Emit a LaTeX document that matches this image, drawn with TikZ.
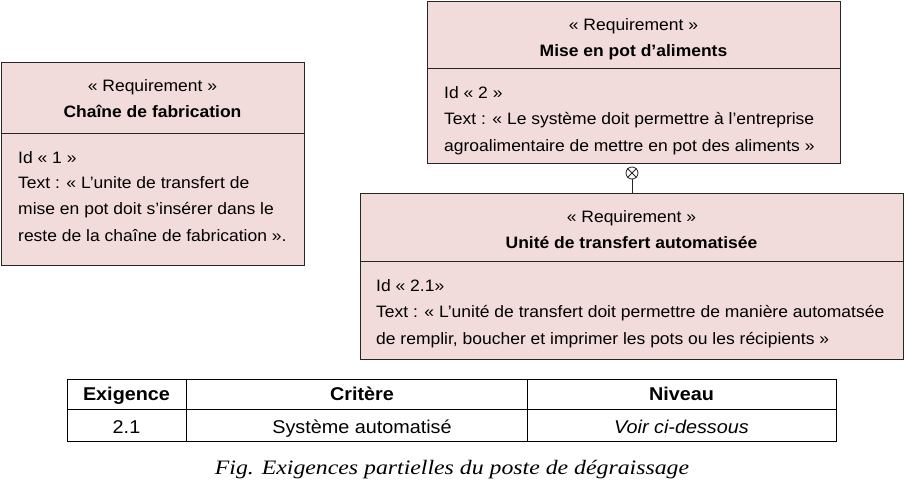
\documentclass[tikz,border=0pt]{standalone}
\usepackage{fontspec}
\setmainfont{Liberation Sans}
\newfontfamily\boxfont[FakeStretch=1.06]{Liberation Sans}
\newfontfamily\tabfont[FakeStretch=1.07]{Liberation Sans}
\newfontfamily\capfont[FakeStretch=1.16]{Liberation Serif}
\definecolor{reqfill}{HTML}{F2DCDB}
\definecolor{reqline}{HTML}{262626}
\begin{document}
\begin{tikzpicture}[x=1pt,y=-1pt,
  reqbox/.style={draw=reqline, line width=0.9pt, fill=reqfill, anchor=north west, inner sep=0pt},
  sep/.style={draw=reqline, line width=0.9pt},
  txt/.style={font=\boxfont\fontsize{16.5}{19}\selectfont, inner sep=0pt, anchor=base},
  ltxt/.style={txt, anchor=base west},
  btxt/.style={txt, font=\boxfont\fontsize{16.5}{19}\selectfont\bfseries},
  ttxt/.style={font=\tabfont\fontsize{18.5}{22}\selectfont, inner sep=0pt, anchor=base},
  tbtxt/.style={ttxt, font=\tabfont\fontsize{18.5}{22}\selectfont\bfseries},
  tline/.style={draw=black, line width=0.9pt}]
\useasboundingbox (0,0) rectangle (905,483);

% Box 1
\node[reqbox, minimum width=303pt, minimum height=203pt] (b1) at (1,62) {};
\draw[sep] (1,133) -- (304,133);
\node[txt]  (b1s) at (152.5,91.7) {« Requirement »};
\node[btxt] (b1t) at (152.5,117.7) {Chaîne de fabrication};
\node[ltxt] (b1a) at (18,163.3) {Id « 1 »};
\node[ltxt] (b1b) at (18,188.6) {Text : « L’unite de transfert de};
\node[ltxt] (b1c) at (18,214.6) {mise en pot doit s’insérer dans le};
\node[ltxt] (b1d) at (18,241) {reste de la chaîne de fabrication ».};

% Box 2
\node[reqbox, minimum width=413pt, minimum height=162pt] (b2) at (427,1) {};
\draw[sep] (427,68) -- (840,68);
\node[txt]  (b2s) at (633.5,30.7) {« Requirement »};
\node[btxt] (b2t) at (633.5,56.7) {Mise en pot d’aliments};
\node[ltxt] (b2a) at (444,98.3) {Id « 2 »};
\node[ltxt] (b2b) at (444,124.6) {Text : « Le système doit permettre à l’entreprise};
\node[ltxt] (b2c) at (444,151) {agroalimentaire de mettre en pot des aliments »};

% Box 3
\node[reqbox, minimum width=543pt, minimum height=166pt] (b3) at (360,193) {};
\draw[sep] (360,261) -- (903,261);
\node[txt]  (b3s) at (631.5,222.7) {« Requirement »};
\node[btxt] (b3t) at (631.5,248.7) {Unité de transfert automatisée};
\node[ltxt] (b3a) at (376,291.3) {Id « 2.1»};
\node[ltxt] (b3b) at (376,317.6) {Text : « L’unité de transfert doit permettre de manière automatsée};
\node[ltxt] (b3c) at (376,344) {de remplir, boucher et imprimer les pots ou les récipients »};

% Containment connector
\node[circle, draw=reqline, line width=0.8pt, minimum size=12pt, inner sep=0pt] (oc) at (632,173) {};
\draw[reqline, line width=0.8pt] (oc.north west) -- (oc.south east);
\draw[reqline, line width=0.8pt] (oc.north east) -- (oc.south west);
\draw[reqline, line width=0.9pt] (oc.south) -- (oc.south |- b3.north);

% Table
\node[draw=black, line width=0.9pt, minimum width=769pt, minimum height=62pt, anchor=north west, inner sep=0pt] (tab) at (67,379) {};
\draw[tline] (67,409) -- (836,409);
\draw[tline] (186,379) -- (186,441);
\draw[tline] (527,379) -- (527,441);
\node[tbtxt] (h1) at (126.5,400.7) {Exigence};
\node[tbtxt] (h2) at (362,400.7) {Critère};
\node[tbtxt] (h3) at (681.5,400.7) {Niveau};
\node[ttxt] (c1) at (126.5,433.3) {2.1};
\node[ttxt] (c2) at (362,433.3) {Système automatisé};
\node[ttxt, font=\tabfont\fontsize{18.5}{22}\selectfont\itshape] (c3) at (681.5,433.3) {Voir ci-dessous};

% Caption
\node[inner sep=0pt, anchor=base, font=\capfont\fontsize{20.5}{24}\selectfont\itshape] (cap) at (452,474.3) {Fig. Exigences partielles du poste de dégraissage};
\end{tikzpicture}
\end{document}
